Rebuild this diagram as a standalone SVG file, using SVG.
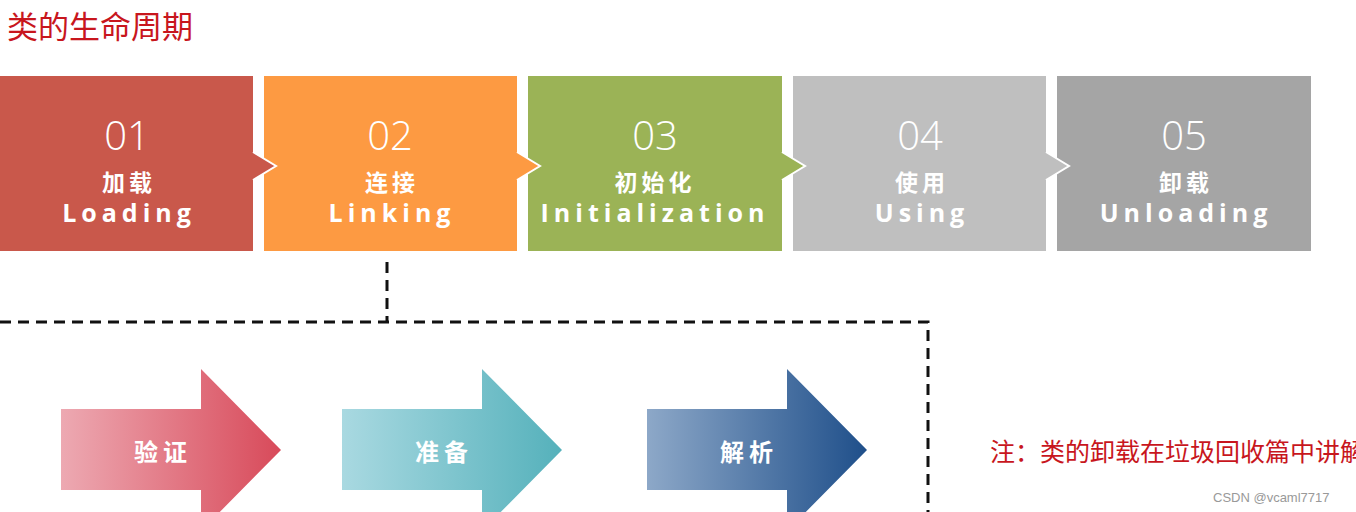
<svg xmlns="http://www.w3.org/2000/svg" width="1356" height="512" viewBox="0 0 1356 512">
<defs>
<linearGradient id="g1" x1="0" y1="0" x2="1" y2="0"><stop offset="0" stop-color="#EDA9B2"/><stop offset="1" stop-color="#D84A5A"/></linearGradient>
<linearGradient id="g2" x1="0" y1="0" x2="1" y2="0"><stop offset="0" stop-color="#A9D9E1"/><stop offset="1" stop-color="#55B1BB"/></linearGradient>
<linearGradient id="g3" x1="0" y1="0" x2="1" y2="0"><stop offset="0" stop-color="#8DA8C8"/><stop offset="1" stop-color="#1F4F8A"/></linearGradient>
<style>
.num{font-family:"Open Sans","Liberation Sans",sans-serif;font-weight:300;font-size:40px;fill:#fff;text-anchor:middle}
.cn{font-family:"Noto Sans CJK SC",sans-serif;font-weight:700;font-size:23px;fill:#fff;text-anchor:middle;letter-spacing:4px}
.en{font-family:"Open Sans","Liberation Sans",sans-serif;font-weight:700;font-size:25px;fill:#fff;text-anchor:middle;letter-spacing:5px}
.tri{stroke:#fff;stroke-width:2}
.dash{fill:none;stroke:#111;stroke-width:3;stroke-dasharray:11 7}
.al{font-family:"Noto Sans CJK SC",sans-serif;font-weight:700;font-size:24px;fill:#fff;text-anchor:middle;letter-spacing:5px}
.red{font-family:"Noto Sans CJK SC",sans-serif;fill:#C8161D}
</style>
</defs>
<rect width="1356" height="512" fill="#fff"/>
<text class="red" x="7" y="38" font-size="31">类的生命周期</text>

<g id="connectors">
<path class="dash" d="M387 262 V322"/>
<path class="dash" d="M0 322 H928 V512"/>
</g>

<g id="n5">
<rect x="1057" y="76" width="254" height="175" fill="#A5A5A5"/>
</g>
<g id="n4">
<rect x="793" y="76" width="253" height="175" fill="#BFBFBF"/>
<path class="tri" d="M1046,152 L1069,166 L1046,180" fill="#BFBFBF"/>
</g>
<g id="n3">
<rect x="528" y="76" width="254" height="175" fill="#9BB356"/>
<path class="tri" d="M782,152 L805,166 L782,180" fill="#9BB356"/>
</g>
<g id="n2">
<rect x="264" y="76" width="253" height="175" fill="#FD9A42"/>
<path class="tri" d="M517,152 L540,166 L517,180" fill="#FD9A42"/>
</g>
<g id="n1">
<rect x="0" y="76" width="253" height="175" fill="#C9584B"/>
<path class="tri" d="M253,152 L276,166 L253,180" fill="#C9584B"/>
</g>

<g id="labels">
<text class="num" x="127" y="150">01</text>
<text class="cn" x="129" y="191">加载</text>
<text class="en" x="129" y="222">Loading</text>
<text class="num" x="390" y="150">02</text>
<text class="cn" x="392" y="191">连接</text>
<text class="en" x="392" y="222">Linking</text>
<text class="num" x="655" y="150">03</text>
<text class="cn" x="655" y="191">初始化</text>
<text class="en" x="655" y="222">Initialization</text>
<text class="num" x="920" y="150">04</text>
<text class="cn" x="922" y="191">使用</text>
<text class="en" x="922" y="222">Using</text>
<text class="num" x="1184" y="150">05</text>
<text class="cn" x="1186" y="191">卸载</text>
<text class="en" x="1186" y="222">Unloading</text>
</g>

<g id="a1">
<polygon points="61,409 201,409 201,369 281,450 201,531 201,490 61,490" fill="url(#g1)"/>
<text class="al" x="163" y="461">验证</text>
</g>
<g id="a2">
<polygon points="342,409 482,409 482,369 562,450 482,531 482,490 342,490" fill="url(#g2)"/>
<text class="al" x="444" y="461">准备</text>
</g>
<g id="a3">
<polygon points="647,409 787,409 787,369 867,450 787,531 787,490 647,490" fill="url(#g3)"/>
<text class="al" x="749" y="461">解析</text>
</g>

<text class="red" x="990" y="461" font-size="25">注：类的卸载在垃圾回收篇中讲解</text>
<text x="1213" y="502" font-family="Liberation Sans, sans-serif" font-size="13" fill="#999">CSDN @vcaml7717</text>
</svg>
